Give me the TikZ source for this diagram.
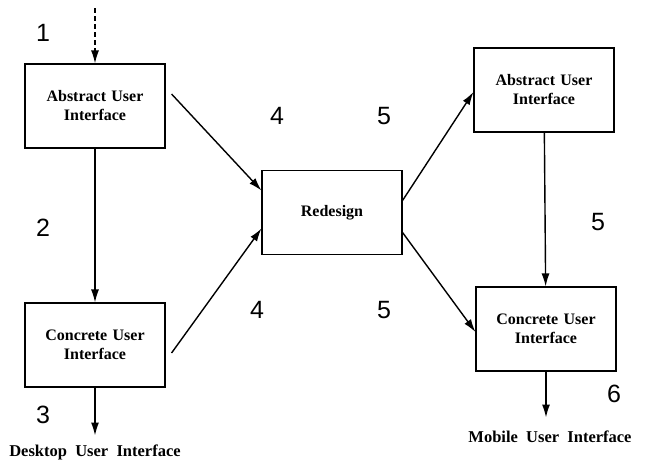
\documentclass[tikz,border=0pt]{standalone}
\usepackage{fontspec}
\setmainfont{Liberation Serif}
\newfontfamily\numfont{Liberation Sans}
\usetikzlibrary{arrows.meta}

\begin{document}
\begin{tikzpicture}[x=1pt,y=-1pt,line width=1.4pt,
        >={Latex[length=13pt,width=8pt]},
        box/.style={draw,line width=1.1pt,minimum width=140pt,minimum height=84pt,
            inner sep=0pt,align=center,text width=134pt,
            font=\fontsize{16}{19}\selectfont\bfseries},
        num/.style={font=\numfont\fontsize{25}{25}\selectfont},
        outlabel/.style={font=\fontsize{16.5}{19}\selectfont\bfseries}]
        \useasboundingbox (0,0) rectangle (651,461);

        % the boxes
        \node[box] (absL) at (95,106) {Abstract User\\Interface};
        \node[box] (conL) at (95,345) {Concrete User\\Interface};
        \node[box] (redesign) at (332,212.5) {Redesign};
        \node[box] (absR) at (544,90) {Abstract User\\Interface};
        \node[box] (conR) at (546,329) {Concrete User\\Interface};

        % the outputs below
        \node[outlabel] (desktop) at (95,452) {Desktop \ User \ Interface};
        \node[outlabel] (mobile) at (550,437) {Mobile \ User \ Interface};
        \coordinate (start) at (95,8);

        % the arrows
        \draw[->,dashed,dash pattern=on 5pt off 3pt] (start) -- (absL.north);
        \draw[->] (absL) -- (conL);
        \draw[->] (conL.south) -- ++(0,48);
        \draw[->] ([xshift=6pt,yshift=12pt]absL.east) -- ([yshift=22pt]redesign.west);
        \draw[->] ([xshift=6pt,yshift=-8pt]conL.east) -- ([yshift=-16pt]redesign.west);
        \draw[->] ([yshift=12pt]redesign.east) -- ([yshift=-2pt]absR.west);
        \draw[->] ([yshift=-20pt]redesign.east) -- ([yshift=-3pt]conR.west);
        \draw[->] (absR) -- (conR);
        \draw[->] (conR.south) -- ++(0,46);

        % the step numbers
        \foreach \n/\x/\y in {1/43/33, 2/43/228, 3/43/415, 4/277/116, 4/257/310,
                5/384/116, 5/384/310, 5/598/222, 6/614/394}
                \node[num] (n-\x-\y) at (\x,\y) {\n};
\end{tikzpicture}
\end{document}
